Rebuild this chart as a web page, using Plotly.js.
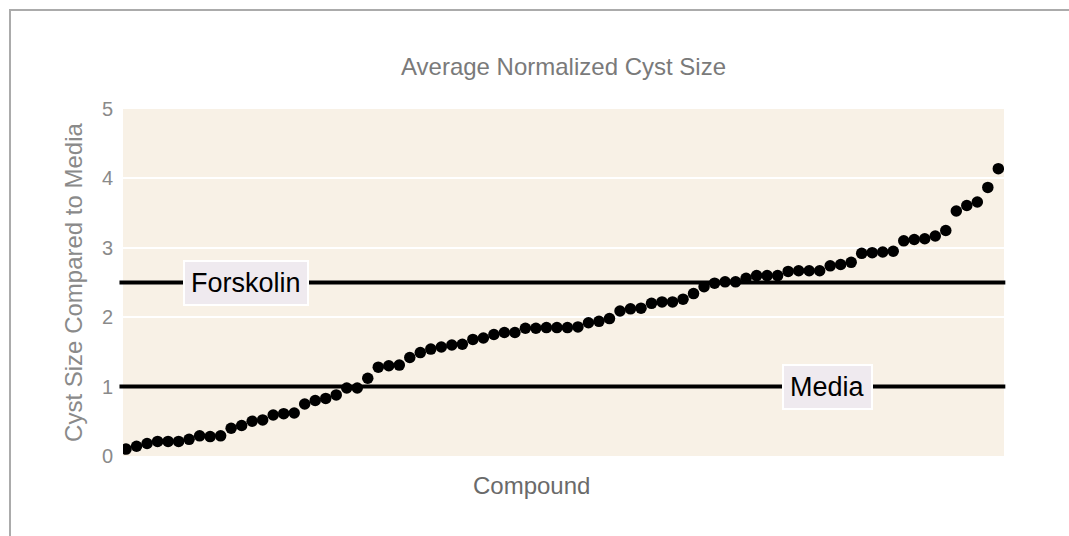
<!DOCTYPE html>
<html>
<head>
<meta charset="utf-8">
<script src="https://cdn.plot.ly/plotly-3.0.1.min.js"></script>
<style>
  html, body { margin: 0; padding: 0; background: #ffffff; width: 1069px; height: 536px; overflow: hidden; }
  #frame { position: absolute; left: 9px; top: 9px; width: 2000px; height: 2000px;
           border-left: 2px solid #ababab; border-top: 2px solid #ababab; }
  #chart { position: absolute; left: 0; top: 0; width: 1069px; height: 536px; }
</style>
</head>
<body>
<div id="frame"></div>
<div id="chart"></div>
<script>
// Average normalized cyst size per compound (sorted ascending)
const cystSize = [
  0.10, 0.14, 0.18, 0.21, 0.21, 0.21, 0.24, 0.29, 0.28, 0.29,
  0.40, 0.44, 0.50, 0.52, 0.59, 0.61, 0.62, 0.75, 0.80, 0.83,
  0.88, 0.98, 0.98, 1.12, 1.28, 1.30, 1.31, 1.42, 1.49, 1.54,
  1.57, 1.60, 1.61, 1.68, 1.70, 1.75, 1.78, 1.78, 1.84, 1.84,
  1.85, 1.85, 1.85, 1.86, 1.92, 1.94, 1.98, 2.09, 2.12, 2.13,
  2.20, 2.22, 2.22, 2.26, 2.34, 2.44, 2.49, 2.51, 2.51, 2.56,
  2.60, 2.60, 2.60, 2.66, 2.67, 2.67, 2.67, 2.74, 2.76, 2.79,
  2.92, 2.93, 2.94, 2.95, 3.10, 3.12, 3.13, 3.17, 3.25, 3.53,
  3.61, 3.66, 3.87, 4.14
];
const compounds = cystSize.map((_, i) => i + 1);

// Reference levels
const refNames = ["Forskolin", "Media"];
const refValues = [2.5, 1.0];
const refLabelX = [0.14, 0.80];

const yTicks = [0, 1, 2, 3, 4, 5];

const FONT = "Liberation Sans, Arial, sans-serif";

const trace = {
  x: compounds,
  y: cystSize,
  type: "scatter",
  mode: "markers",
  marker: { color: "#000000", size: 11.5 },
  hoverinfo: "y",
  showlegend: false
};

const shapes = refValues.map(v => ({
  type: "line", xref: "paper", yref: "y",
  x0: -0.004, x1: 1.0015, y0: v, y1: v,
  line: { color: "#000000", width: 4 },
  layer: "above"
}));

const annotations = refNames.map((name, i) => ({
  text: name, xref: "paper", yref: "y",
  x: refLabelX[i], y: refValues[i],
  xanchor: "center", yanchor: "middle",
  showarrow: false,
  font: { family: FONT, size: 27, color: "#000000" },
  bgcolor: "#efeaef", bordercolor: "#ffffff", borderwidth: 2, borderpad: 6
}));

// x-axis title placed as in the reference (slightly left of the plot centre)
annotations.push({
  text: "Compound", xref: "paper", yref: "paper",
  x: 0.4637, y: 0, xanchor: "center", yanchor: "top", yshift: -14,
  showarrow: false,
  font: { family: FONT, size: 24, color: "#6a6a6a" }
});

const layout = {
  width: 1069, height: 536,
  margin: { l: 123, r: 65, t: 109, b: 80, pad: 0 },
  paper_bgcolor: "rgba(0,0,0,0)",
  plot_bgcolor: "#f8f1e6",
  font: { family: FONT, color: "#808080" },
  title: {
    text: "Average Normalized Cyst Size",
    xref: "paper", x: 0.5, xanchor: "center",
    yref: "container", y: 0.875, yanchor: "middle",
    font: { size: 24, color: "#7a7a7a" }
  },
  xaxis: {
    range: [0.71, 84.54],
    showticklabels: false, showgrid: false, zeroline: false, showline: false,
    ticks: ""
  },
  yaxis: {
    range: [0, 5],
    tickvals: yTicks,
    showgrid: true, gridcolor: "#ffffff", gridwidth: 2,
    zeroline: false, showline: false, ticks: "",
    ticklabelstandoff: 9,
    tickfont: { size: 20, color: "#8a8a8a" },
    title: { text: "Cyst Size Compared to Media", standoff: 12,
             font: { size: 24, color: "#8a8a8a" } }
  },
  shapes: shapes,
  annotations: annotations
};

Plotly.newPlot("chart", [trace], layout, { displayModeBar: false, staticPlot: true });
</script>
</body>
</html>
